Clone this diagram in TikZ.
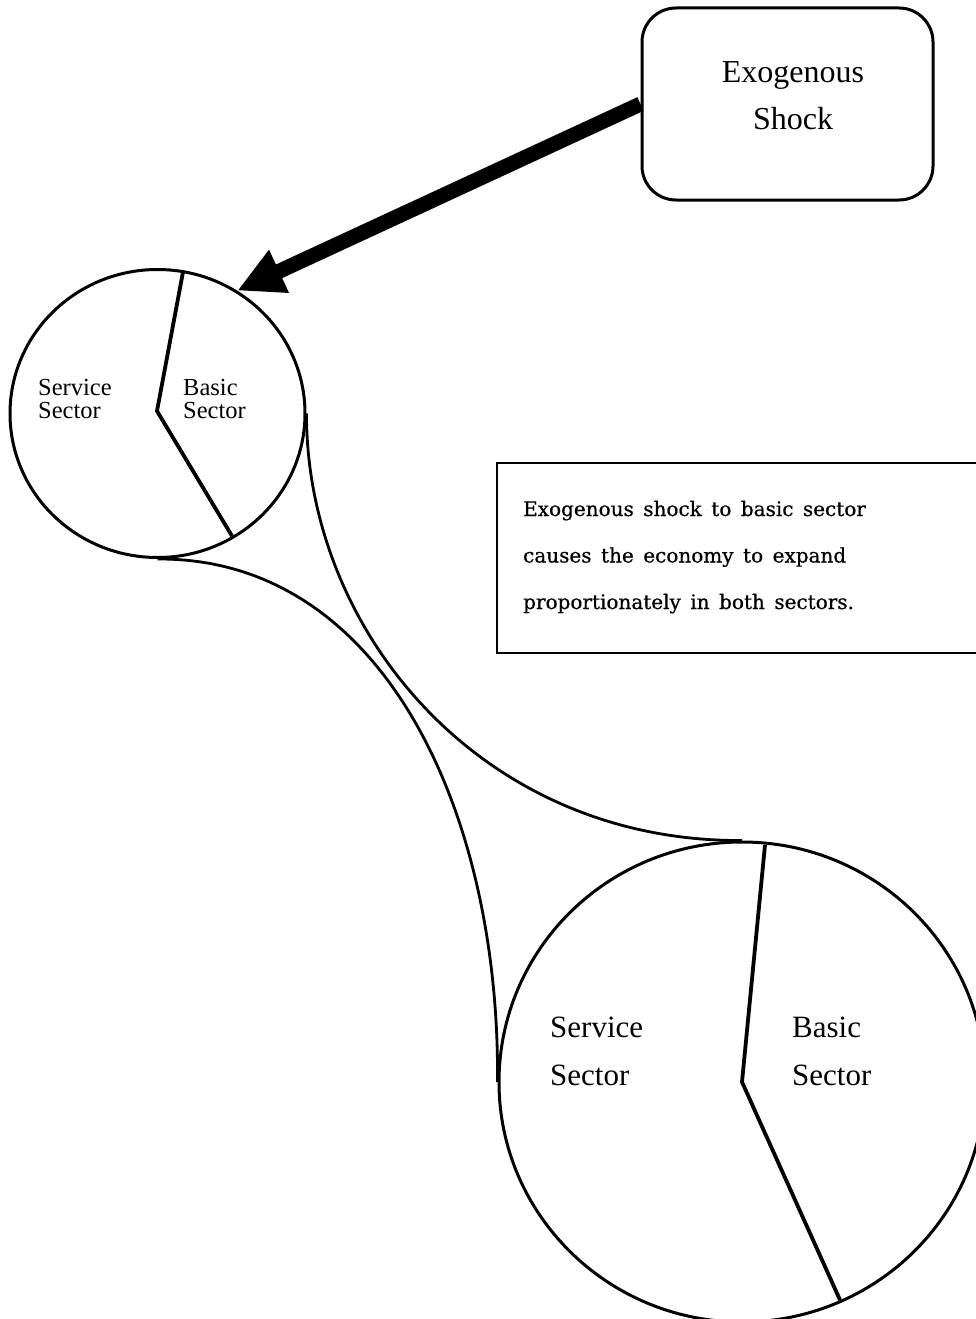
\documentclass[tikz,border=0pt]{standalone}
\usepackage{fontspec}
\setmainfont{Liberation Serif}
\newfontfamily\notefamily{DejaVu Serif}[FakeBold=0.6]
\usetikzlibrary{shapes.geometric,arrows.meta}
\newcommand\notesetup{\notefamily\fontsize{20}{46.5}\selectfont\spaceskip=9.5pt plus 2pt minus 1pt\relax}
\begin{document}
\begin{tikzpicture}[x=1pt,y=-1pt,
  pie/.style={ellipse,draw=black,line width=3pt,inner sep=0pt},
  divider/.style={line width=3.8pt,line join=miter},
  link/.style={line width=2.8pt},
  shockarrow/.style={line width=15pt,-{Triangle[length=46pt,width=44pt]}},
  lbl/.style={inner sep=0pt,anchor=base west},
  bigfont/.style={font=\fontsize{31}{48}\selectfont},
  smallfont/.style={font=\fontsize{24.5}{23}\selectfont},
  notefont/.style={font=\notesetup}]
\useasboundingbox (0,0) rectangle (975,1319);
\fill[white] (0,0) rectangle (975,1319);

% the shock box
\node[draw=black,line width=3pt,rounded corners=34pt,minimum width=291pt,
      minimum height=192pt,inner sep=0pt] (shock) at (787.5,104) {};
\node[inner sep=0pt,anchor=base,font=\fontsize{32}{47}\selectfont] (shocktext) at (793,83)
  {\begin{tabular}[t]{@{}c@{}}Exogenous\\Shock\end{tabular}};

% explanatory note
\node[draw=black,line width=2.6pt,minimum width=493pt,minimum height=190pt,
      inner sep=0pt] (note) at (743.5,558) {};
\node[lbl,notefont] (notetext) at (523,516)
  {\begin{tabular}[t]{@{}l@{}}Exogenous shock to basic sector\\causes the economy to expand\\proportionately in both sectors.\end{tabular}};

% the economy before and after
\node[pie,minimum width=295pt,minimum height=288pt] (small) at (157.5,413.5) {};
\node[pie,minimum width=486pt,minimum height=480pt] (big) at (742,1082) {};

% sector dividers
\coordinate (sv) at (157,411);
\draw[divider] (183,272) -- (sv) -- (232,536);
\coordinate (bv) at (742,1082);
\draw[divider] (765,845) -- (bv) -- (840,1300);

% sector labels
\node[lbl,smallfont] (sservice) at (38,395)
  {\begin{tabular}[t]{@{}l@{}}Service\\Sector\end{tabular}};
\node[lbl,smallfont] (sbasic) at (183,395)
  {\begin{tabular}[t]{@{}l@{}}Basic\\Sector\end{tabular}};
\node[lbl,bigfont] (bservice) at (550,1037)
  {\begin{tabular}[t]{@{}l@{}}Service\\Sector\end{tabular}};
\node[lbl,bigfont] (bbasic) at (792,1037)
  {\begin{tabular}[t]{@{}l@{}}Basic\\Sector\end{tabular}};

% expansion envelope
\draw[link] (small.south) .. controls (385,557.5) and (500,815) .. (big.west);
\draw[link] (small.east) .. controls (306,630) and (480,842) .. (big.north);

% shock hits the basic sector
\draw[shockarrow] (shock.west) -- (small.57);
\end{tikzpicture}
\end{document}
